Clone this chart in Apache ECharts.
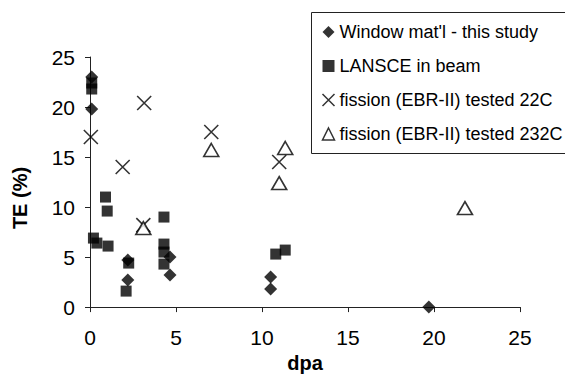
<!DOCTYPE html>
<html>
<head>
<meta charset="utf-8">
<script src="https://cdn.jsdelivr.net/npm/echarts@6/dist/echarts.min.js"></script>
<style>
  html, body { margin: 0; padding: 0; background: #fff; }
  #chart { width: 565px; height: 378px; }
</style>
</head>
<body>
<div id="chart"></div>
<script>
// [dpa, TE %]
const windowMat = [[0.1, 23], [0.1, 19.8], [2.2, 4.7], [2.2, 2.7], [4.65, 5.0], [4.65, 3.2], [10.5, 3.0], [10.5, 1.8], [19.7, 0]]
const lansce = [[0.1, 22.4], [0.1, 21.8], [0.2, 6.9], [0.4, 6.4], [0.9, 11.0], [1.0, 9.6], [1.05, 6.1], [2.25, 4.4], [2.1, 1.6],
  [4.3, 9.0], [4.3, 6.3], [4.3, 5.5], [4.3, 4.3], [10.8, 5.3], [11.35, 5.7]]
const fission22 = [[0.05, 17.0], [1.9, 14.0], [3.15, 20.4], [3.1, 8.2], [7.05, 17.5], [11.0, 14.5]]
const fission232 = [[3.1, 7.9], [7.05, 15.7], [11.35, 15.9], [11.0, 12.4], [21.8, 9.9]]
const seriesNames = ["Window mat'l - this study", 'LANSCE in beam', 'fission (EBR-II) tested 22C', 'fission (EBR-II) tested 232C']

const font = '"Liberation Sans", Arial, sans-serif'
const crossPath = 'path://M0,0L20,20M20,0L0,20'

const chart = echarts.init(document.getElementById('chart'), null, { renderer: 'svg' })

const axisCommon = {
  type: 'value',
  min: 0,
  max: 25,
  interval: 5,
  axisLine: { show: true, lineStyle: { color: '#222', width: 1 } },
  axisTick: { show: true, length: 5, lineStyle: { color: '#222' } },
  splitLine: { show: false },
  axisLabel: { color: '#000', fontFamily: font, fontSize: 21 }
}

chart.setOption({
  animation: false,
  textStyle: { fontFamily: font },
  grid: { left: 90, right: 45, top: 57, bottom: 62 },
  xAxis: {
    ...axisCommon,
    name: 'dpa',
    nameLocation: 'middle',
    nameGap: 42,
    nameTextStyle: { color: '#000', fontFamily: font, fontSize: 20, fontWeight: 'bold' },
    axisLabel: { ...axisCommon.axisLabel, margin: 20 }
  },
  yAxis: {
    ...axisCommon,
    axisLabel: { ...axisCommon.axisLabel, margin: 15 }
  },
  graphic: [
    {
      type: 'text',
      x: 20,
      y: 198,
      rotation: Math.PI / 2,
      style: { text: 'TE (%)', font: 'bold 20px ' + font, fill: '#000', align: 'center', verticalAlign: 'middle' }
    },
    {
      // legend frame runs off the right edge in the original
      type: 'rect',
      z: -1,
      shape: { x: 311.5, y: 12.5, width: 300, height: 141 },
      style: { fill: 'none', stroke: '#222', lineWidth: 1 }
    }
  ],
  legend: {
    orient: 'vertical',
    left: 311,
    top: 12,
    padding: [11, 20, 11, 9],
    itemGap: 16,
    itemWidth: 12,
    itemHeight: 12,
    itemStyle: { borderWidth: 1.5 },
    textStyle: { color: '#000', fontFamily: font, fontSize: 18 },
    data: seriesNames
  },
  series: [
    {
      name: seriesNames[1],
      type: 'scatter',
      data: lansce,
      symbol: 'rect',
      symbolSize: 11,
      itemStyle: { color: '#000' }
    },
    {
      name: seriesNames[0],
      type: 'scatter',
      data: windowMat,
      symbol: 'diamond',
      symbolSize: 13,
      itemStyle: { color: '#000' }
    },
    {
      name: seriesNames[2],
      type: 'scatter',
      data: fission22,
      symbol: crossPath,
      symbolSize: 14,
      itemStyle: { color: 'none', borderColor: '#000', borderWidth: 1.6 }
    },
    {
      name: seriesNames[3],
      type: 'scatter',
      data: fission232,
      symbol: 'triangle',
      symbolSize: [15, 13],
      itemStyle: { color: '#fff', borderColor: '#000', borderWidth: 1.6 }
    }
  ]
})
</script>
</body>
</html>
